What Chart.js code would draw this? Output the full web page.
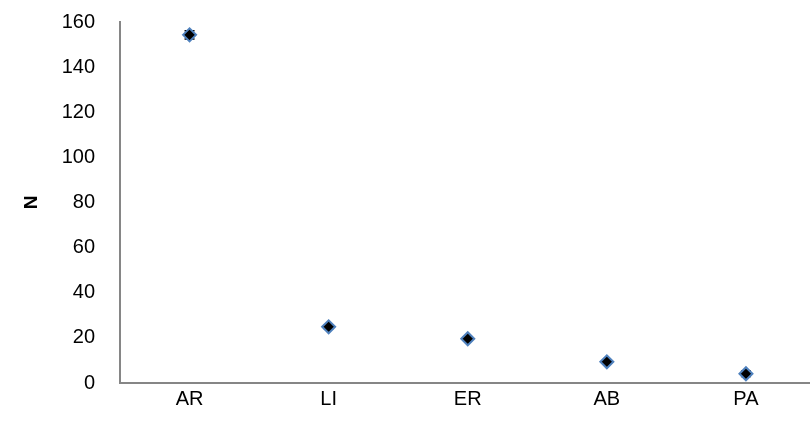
<!DOCTYPE html>
<html>
<head>
<meta charset="utf-8">
<script src="https://cdn.jsdelivr.net/npm/chart.js@4.4.1/dist/chart.umd.min.js"></script>
<style>
  html, body { margin: 0; padding: 0; background: #fff; overflow: hidden; }
  #wrap { width: 824px; height: 451px; margin-top: -15px; }
</style>
</head>
<body>
<div id="wrap"><canvas id="nChart" width="824" height="451"></canvas></div>
<script>
// categories and values
var groups = ['AR', 'LI', 'ER', 'AB', 'PA'];
var nValues = [154.3, 24.9, 19.6, 9.4, 4.1];
var nErrors = [1.8, 0.7, 0.6, 0.6, 1.2];
var yTicks = [0, 20, 40, 60, 80, 100, 120, 140, 160];

var axisGrey = '#868686';
var tickFont = { family: "'Liberation Sans Narrow', 'Liberation Sans', Arial, sans-serif", size: 20 };

// draws the error bars behind the markers
var errorBars = {
  id: 'errorBars',
  beforeDatasetsDraw: function(chart) {
    var ctx = chart.ctx;
    var yScale = chart.scales.y;
    var meta = chart.getDatasetMeta(0);
    ctx.save();
    ctx.strokeStyle = '#000';
    ctx.lineWidth = 1.5;
    for (var i = 0; i < meta.data.length; i++) {
      var x = meta.data[i].x;
      var yTop = yScale.getPixelForValue(nValues[i] + nErrors[i]);
      var yBot = yScale.getPixelForValue(nValues[i] - nErrors[i]);
      ctx.beginPath();
      ctx.moveTo(x, yTop); ctx.lineTo(x, yBot);
      ctx.moveTo(x - 5, yTop); ctx.lineTo(x + 5, yTop);
      ctx.moveTo(x - 5, yBot); ctx.lineTo(x + 5, yBot);
      ctx.stroke();
    }
    ctx.restore();
  }
};

var config = {
  type: 'line',
  data: {
    labels: groups,
    datasets: [{
      label: 'N',
      data: nValues,
      showLine: false,
      pointStyle: 'rectRot',
      pointRadius: 6.5,
      pointHoverRadius: 6.5,
      pointBackgroundColor: '#000',
      pointBorderColor: '#4F81BD',
      pointBorderWidth: 2
    }]
  },
  options: {
    responsive: false,
    animation: false,
    layout: { padding: { top: 6, left: 0, right: 0, bottom: 0 } },
    plugins: { legend: { display: false }, tooltip: { enabled: false } },
    scales: {
      x: {
        offset: true,
        grid: { display: false, drawTicks: false },
        border: { color: axisGrey, width: 2 },
        ticks: { color: '#000', font: tickFont, padding: 4 },
        afterFit: function(scale) { scale.height = 53; }
      },
      y: {
        min: 0,
        max: 160,
        afterBuildTicks: function(scale) {
          scale.ticks = yTicks.map(function(v) { return { value: v }; });
        },
        grid: { display: false, drawTicks: false },
        border: { color: axisGrey, width: 2 },
        ticks: { color: '#000', font: tickFont, padding: 25 },
        title: {
          display: true,
          text: 'N',
          color: '#000',
          font: { family: "'Liberation Sans', Arial, sans-serif", size: 19, weight: 'bold' },
          padding: { top: 20, bottom: 0 }
        },
        afterFit: function(scale) { scale.width = 120; }
      }
    }
  },
  plugins: [errorBars]
};

new Chart(document.getElementById('nChart'), config);
</script>
</body>
</html>
